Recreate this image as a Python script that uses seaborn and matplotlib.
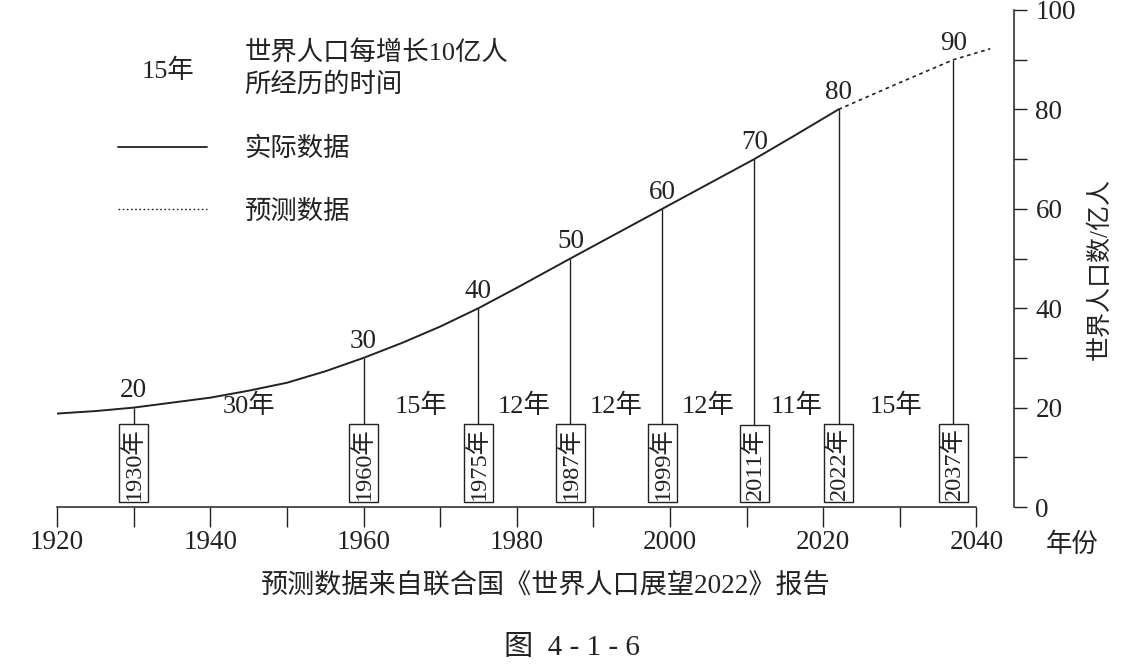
import matplotlib
matplotlib.use("Agg")
import pandas as pd
from matplotlib import pyplot as plt
from matplotlib.ticker import MultipleLocator
import seaborn as sns

# curve (亿人)
actual_years = [1920, 1925, 1930, 1940, 1945, 1950, 1955, 1960, 1965, 1970,
                1975, 1980, 1987, 1990, 1999, 2005, 2011, 2016, 2022]
actual_pop = [18.8, 19.3, 20.0, 22.0, 23.4, 25.0, 27.3, 30.0, 33.0, 36.3,
              40.0, 44.1, 50.0, 52.5, 60.0, 65.0, 70.0, 74.5, 80.0]
forecast_years = [2022, 2030, 2037, 2041.8]
forecast_pop = [80.0, 85.4, 90.0, 92.2]

milestone_years = [1930, 1960, 1975, 1987, 1999, 2011, 2022, 2037]
milestone_pop = [20, 30, 40, 50, 60, 70, 80, 90]

x_ticks = [1920, 1940, 1960, 1980, 2000, 2020, 2040]
y_ticks = [0, 20, 40, 60, 80, 100]

sns.set_theme(style="white")
plt.rcParams["font.family"] = ["Liberation Serif", "Noto Sans CJK SC"]
ink = "#222222"

fig = plt.figure(figsize=(11.34, 6.71), dpi=100)
fig.patch.set_facecolor("white")
ax = fig.add_axes([0.0503, 0.2444, 0.8439, 0.7407])
ax.set_facecolor("white")

actual = pd.DataFrame({"year": actual_years, "pop": actual_pop})
forecast = pd.DataFrame({"year": forecast_years, "pop": forecast_pop})
sns.lineplot(data=actual, x="year", y="pop", ax=ax, color=ink, linewidth=1.4)
sns.lineplot(data=forecast, x="year", y="pop", ax=ax, color=ink, linewidth=1.2,
             linestyle=(0, (2.2, 2.2)))

# vertical markers, year boxes, value labels
ax.vlines(milestone_years, 1, milestone_pop, color=ink, linewidth=1.0, zorder=2)
for yr, val in zip(milestone_years, milestone_pop):
    ax.text(yr, 1.5, f"{yr}年", rotation=90, ha="center", va="bottom",
            fontsize=17.5, color=ink, zorder=4,
            bbox=dict(boxstyle="square,pad=0.12", fc="white", ec=ink, lw=1.0))
    ax.annotate(str(val), (yr, val), xytext=(0, 3), textcoords="offset points",
                ha="center", va="bottom", fontsize=19.5, color=ink)

# years needed for each extra 10亿
for a, b in zip(milestone_years[:-1], milestone_years[1:]):
    ax.text((a + b) / 2, 20.4, f"{b - a}年", ha="center", va="center",
            fontsize=19, color=ink)

ax.set_xlim(1920, 2044.9)
ax.set_ylim(0, 100)
ax.set_xlabel("")
ax.set_ylabel("")

for side in ["top", "left"]:
    ax.spines[side].set_visible(False)
for side in ["bottom", "right"]:
    ax.spines[side].set_color(ink)
    ax.spines[side].set_linewidth(1.1)
ax.spines["bottom"].set_bounds(1920, 2040)
ax.spines["right"].set_bounds(0, 100)

ax.set_xticks(x_ticks)
ax.xaxis.set_minor_locator(MultipleLocator(10))
ax.tick_params(axis="x", which="both", bottom=True, direction="out", length=14.4,
               width=1.0, color=ink, pad=2, labelsize=19.5, labelcolor=ink)
ax.yaxis.tick_right()
ax.set_yticks(y_ticks)
ax.yaxis.set_minor_locator(MultipleLocator(10))
ax.tick_params(axis="y", which="both", right=True, left=False, direction="out",
               length=9.4, width=1.0, color=ink, pad=6, labelsize=19.5,
               labelcolor=ink)

ax.text(1.09, 0.478, "世界人口数/亿人", transform=ax.transAxes, rotation=90,
        ha="center", va="center", fontsize=18, color=ink)
ax.text(1.0606, -0.076, "年份", transform=ax.transAxes, ha="center",
        va="center", fontsize=19, color=ink)

# hand-made legend
ax.text(0.116, 0.878, "15年", transform=ax.transAxes, ha="center", va="center",
        fontsize=19, color=ink)
ax.text(0.196, 0.914, "世界人口每增长10亿人", transform=ax.transAxes, ha="left",
        va="center", fontsize=19, color=ink)
ax.text(0.196, 0.85, "所经历的时间", transform=ax.transAxes, ha="left",
        va="center", fontsize=19, color=ink)
ax.plot([0.064, 0.157], [0.724, 0.724], transform=ax.transAxes, color=ink,
        linewidth=1.3)
ax.text(0.196, 0.72, "实际数据", transform=ax.transAxes, ha="left", va="center",
        fontsize=19, color=ink)
ax.plot([0.064, 0.157], [0.60, 0.60], transform=ax.transAxes, color=ink,
        linewidth=1.0, linestyle=(0, (1.2, 1.8)))
ax.text(0.196, 0.594, "预测数据", transform=ax.transAxes, ha="left", va="center",
        fontsize=19, color=ink)

fig.text(546 / 1134, 1 - 586 / 671, "预测数据来自联合国《世界人口展望2022》报告",
         ha="center", va="center", fontsize=19.5, color=ink)
fig.text(572 / 1134, 1 - 648 / 671, "图  4 - 1 - 6", ha="center", va="center",
         fontsize=21, color=ink)

fig.savefig("out.png", dpi=100, facecolor="white")
